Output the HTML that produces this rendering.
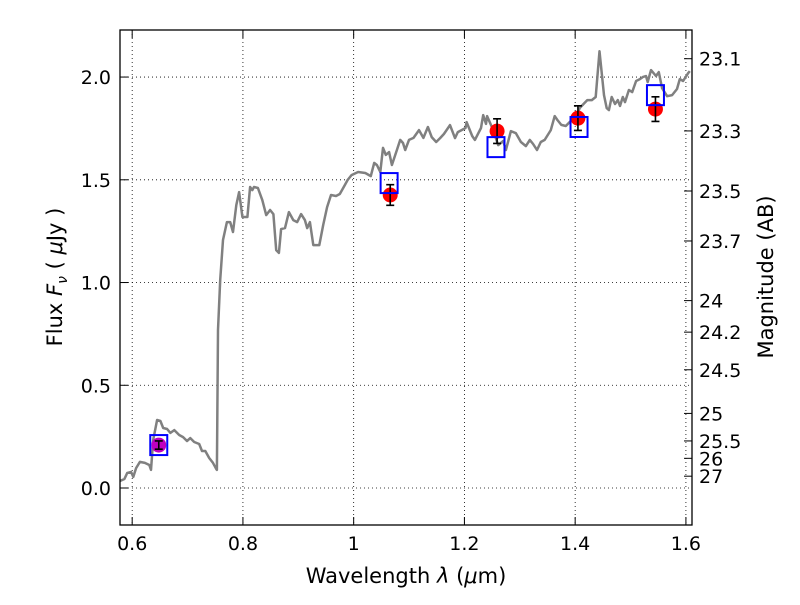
<!DOCTYPE html>
<html><head><meta charset="utf-8"><style>
body{margin:0;background:#fff}
svg text{font-family:"DejaVu Sans","Liberation Sans",sans-serif;fill:#000}
</style></head><body>
<svg id="chart" width="800" height="600" xmlns="http://www.w3.org/2000/svg">
<rect width="800" height="600" fill="#fff"/>
<g id="grid"></g>
<g id="series"></g>
<rect x="120" y="30" width="572" height="495" fill="none" stroke="#000" stroke-width="1.3"/>
<g id="axes"></g>
<text x="406" y="583" font-size="21" text-anchor="middle">Wavelength  <tspan font-style="italic">λ</tspan> (<tspan font-style="italic">μ</tspan>m)</text>
<text transform="translate(62,277) rotate(-90)" font-size="21" text-anchor="middle">Flux  <tspan font-style="italic">F</tspan><tspan font-style="italic" font-size="14" dy="5">ν</tspan><tspan dy="-5">  ( </tspan><tspan font-style="italic">μ</tspan>Jy )</text>
<text transform="translate(773,277) rotate(-90)" font-size="21" text-anchor="middle">Magnitude (AB)</text>
</svg>
<script>
const xTicks=[0.6,0.8,1.0,1.2,1.4,1.6];
const xTickLabels=["0.6","0.8","1","1.2","1.4","1.6"];
const yTicks=[0,0.5,1,1.5,2];
const yTickLabels=["0.0","0.5","1.0","1.5","2.0"];
const magTicks=[23.1,23.3,23.5,23.7,24,24.2,24.5,25,25.5,26,27];
const magLabels=["23.1","23.3","23.5","23.7","24","24.2","24.5","25","25.5","26","27"];
const specWave=[0.578,0.586,0.591,0.598,0.602,0.607,0.614,0.623,0.631,0.634,0.638,0.645,0.651,0.656,0.663,0.669,0.676,0.685,0.692,0.699,0.705,0.712,0.721,0.726,0.732,0.739,0.746,0.752,0.753,0.755,0.759,0.764,0.771,0.777,0.782,0.788,0.793,0.799,0.808,0.813,0.817,0.820,0.827,0.835,0.842,0.849,0.855,0.860,0.865,0.869,0.876,0.883,0.891,0.898,0.905,0.912,0.916,0.921,0.927,0.938,0.945,0.952,0.959,0.968,0.975,0.984,0.989,0.996,1.008,1.021,1.031,1.037,1.042,1.048,1.053,1.058,1.064,1.069,1.078,1.084,1.089,1.093,1.100,1.108,1.118,1.126,1.134,1.141,1.149,1.156,1.163,1.174,1.183,1.188,1.195,1.202,1.204,1.214,1.219,1.230,1.234,1.239,1.241,1.252,1.261,1.270,1.275,1.284,1.293,1.302,1.311,1.318,1.324,1.331,1.338,1.345,1.356,1.363,1.368,1.375,1.383,1.392,1.401,1.408,1.417,1.422,1.430,1.437,1.444,1.452,1.457,1.461,1.466,1.472,1.477,1.481,1.486,1.490,1.497,1.503,1.510,1.517,1.522,1.528,1.531,1.537,1.540,1.546,1.551,1.557,1.566,1.575,1.584,1.589,1.595,1.604,1.607];
const specFlux=[0.034,0.044,0.073,0.078,0.054,0.097,0.127,0.122,0.112,0.088,0.234,0.331,0.326,0.292,0.287,0.268,0.282,0.258,0.248,0.229,0.243,0.224,0.214,0.180,0.180,0.146,0.122,0.092,0.088,0.769,1.012,1.207,1.294,1.294,1.246,1.377,1.440,1.319,1.319,1.465,1.450,1.465,1.460,1.401,1.328,1.353,1.333,1.158,1.144,1.260,1.265,1.343,1.304,1.294,1.333,1.304,1.265,1.294,1.182,1.182,1.280,1.367,1.426,1.421,1.431,1.474,1.499,1.523,1.538,1.533,1.518,1.582,1.572,1.538,1.655,1.621,1.635,1.572,1.645,1.694,1.679,1.645,1.694,1.704,1.742,1.704,1.757,1.708,1.684,1.703,1.723,1.766,1.703,1.732,1.742,1.752,1.781,1.713,1.694,1.752,1.815,1.772,1.810,1.742,1.669,1.689,1.645,1.737,1.727,1.684,1.664,1.694,1.674,1.645,1.684,1.694,1.742,1.810,1.791,1.767,1.762,1.786,1.791,1.849,1.874,1.888,1.888,1.903,2.126,1.912,1.849,1.839,1.903,1.869,1.888,1.859,1.903,1.878,1.937,1.927,1.981,1.990,2.000,2.005,1.976,2.034,2.024,2.005,2.024,1.946,1.907,1.912,1.942,1.990,1.981,2.019,2.029];
const modelWave=[0.648,1.064,1.257,1.407,1.545];
const modelFlux=[0.209,1.484,1.659,1.757,1.912];
const obsWave=[0.648,1.066,1.259,1.405,1.545];
const obsFlux=[0.209,1.426,1.737,1.800,1.844];
const obsErr=[0.02,0.05,0.06,0.06,0.06];
const obsColor=["#bf00bf","red","red","red","red"];

const X0=120,X1=692,Y0=30,Y1=525;
const xmin=0.578,xmax=1.611,ymin=-0.18,ymax=2.229;
const sx=v=>X0+(v-xmin)/(xmax-xmin)*(X1-X0);
const sy=v=>Y1-(v-ymin)/(ymax-ymin)*(Y1-Y0);
const NS="http://www.w3.org/2000/svg";
function mk(tag,attrs,parent){const e=document.createElementNS(NS,tag);for(const k in attrs)e.setAttribute(k,attrs[k]);parent.appendChild(e);return e;}
const grid=document.getElementById('grid'),ser=document.getElementById('series'),ax=document.getElementById('axes');

xTicks.forEach((t,i)=>{const x=sx(t);
 const g=mk('line',{x1:x,x2:x,y1:Y0,y2:Y1,stroke:'#000','stroke-width':0.8,'stroke-dasharray':'1,3'},grid);
 
 
 mk('line',{x1:x,x2:x,y1:Y1,y2:Y1-8,stroke:'#000'},ax);
 mk('line',{x1:x,x2:x,y1:Y0,y2:Y0+8,stroke:'#000'},ax);
 const tx=mk('text',{x:x,y:Y1+25,'font-size':19,'text-anchor':'middle'},ax);tx.textContent=xTickLabels[i];
 
 
});
yTicks.forEach((t,i)=>{const y=sy(t);
 const g=mk('line',{x1:X0,x2:X1,y1:y,y2:y,stroke:'#000','stroke-width':0.8,'stroke-dasharray':'1,3'},grid);
 
 
 mk('line',{x1:X0,x2:X0+8,y1:y,y2:y,stroke:'#000'},ax);
 const tx=mk('text',{x:X0-9,y:y+7,'font-size':19,'text-anchor':'end'},ax);tx.textContent=yTickLabels[i];
 
 
});
magTicks.forEach((m,i)=>{const f=Math.pow(10,(23.9-m)/2.5);const y=sy(f);
 mk('line',{x1:X1,x2:X1-8,y1:y,y2:y,stroke:'#000'},ax);
 const tx=mk('text',{x:X1+7,y:y+7,'font-size':19},ax);tx.textContent=magLabels[i];
 
 
});
const pts=specWave.map((w,i)=>sx(w).toFixed(1)+','+sy(specFlux[i]).toFixed(1)).join(' ');
const pl=mk('polyline',{points:pts,fill:'none',stroke:'#808080','stroke-width':2.5,'stroke-linejoin':'round'},ser);


obsWave.forEach((w,i)=>{const x=sx(w),y=sy(obsFlux[i]);
 const c=mk('circle',{cx:x,cy:y,r:7.5,fill:obsColor[i]},ser);
 
 
 const yt=sy(obsFlux[i]+obsErr[i]),yb=sy(obsFlux[i]-obsErr[i]);
 const e=mk('path',{d:`M${x},${yt}V${yb}M${x-4},${yt}H${x+4}M${x-4},${yb}H${x+4}`,stroke:'#000','stroke-width':1.6,fill:'none'},ser);
 
 
});
modelWave.forEach((w,i)=>{const x=sx(w),y=sy(modelFlux[i]);
 const r=mk('rect',{x:x-8.5,y:y-10,width:17,height:20,fill:'none',stroke:'#0000ff','stroke-width':2},ser);
 
 
});
</script>
</body></html>
